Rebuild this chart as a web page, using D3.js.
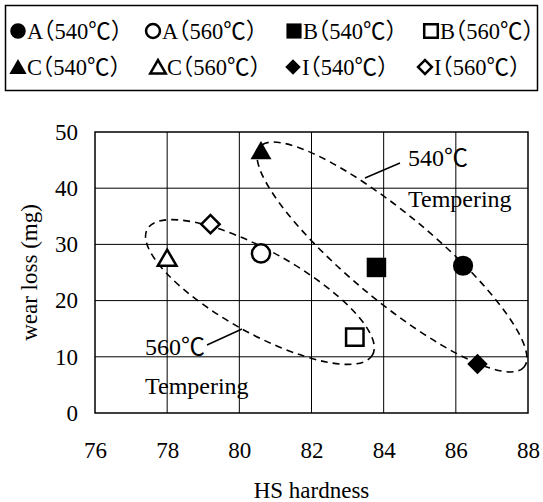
<!DOCTYPE html>
<html>
<head>
<meta charset="utf-8">
<script src="https://cdn.jsdelivr.net/npm/d3@7"></script>
<style>
  body { margin: 0; background: #fff; }
  svg text { font-family: "Liberation Serif", "Noto Sans CJK JP", "DejaVu Serif", serif !important; fill: #000; }
  .leg text { font-feature-settings: "halt"; }
</style>
</head>
<body>
<script>
// data
const labels = ["A（540℃）", "A（560℃）", "B（540℃）", "B（560℃）",
                "C（540℃）", "C（560℃）", "I（540℃）", "I（560℃）"];
const shapes = ["circle", "circle", "square", "square", "triangle", "triangle", "diamond", "diamond"];
const filled = [true, false, true, false, true, false, true, false];
const hardness = [86.2, 80.6, 83.8, 83.2, 80.6, 78.0, 86.6, 79.2];
const wearLoss = [26.2, 28.4, 25.9, 13.5, 46.6, 27.5, 8.7, 33.6];
const xTicks = [76, 78, 80, 82, 84, 86, 88];
const yTicks = [0, 10, 20, 30, 40, 50];

// dashed ellipses that group the tempering temperatures
const groupNames = ["540℃", "560℃"];
const groupCenterX = [84.23, 80.57];
const groupCenterY = [27.76, 21.53];

const W = 543, H = 502;
const margin = { top: 132, right: 15, bottom: 89, left: 95 };
const width = W - margin.left - margin.right;
const height = H - margin.top - margin.bottom;

const svg = d3.select("body").append("svg")
  .attr("width", W)
  .attr("height", H);

// ---- legend ----
const legend = svg.append("g").attr("class", "leg");
legend.append("rect")
  .attr("x", 5.5).attr("y", 5.5)
  .attr("width", 532).attr("height", 85)
  .attr("fill", "none").attr("stroke", "#000").attr("stroke-width", 1.5);

const symbolOf = (shape) => ({
  circle: d3.symbolCircle,
  square: d3.symbolSquare,
  triangle: d3.symbolTriangle,
  diamond: d3.symbolSquare
})[shape];

const markerSize = { circle: 320, square: 380, triangle: 190, diamond: 210 };
const legendSize = { circle: 190, square: 230, triangle: 130, diamond: 120 };

const drawMarker = (sel, shape, isFilled, size) => {
  sel.append("path")
    .attr("d", d3.symbol().type(symbolOf(shape)).size(isFilled ? size : size * 0.8)())
    .attr("transform", shape === "diamond" ? "rotate(45)" : (shape === "triangle" ? "translate(0,2)" : null))
    .attr("fill", isFilled ? "#000" : "#fff")
    .attr("stroke", "#000")
    .attr("stroke-width", isFilled ? 0 : 2.5);
};

const rowY = [31, 67];
const colX = [[18, 153, 294, 431], [18, 158, 293, 425]];
[[0, 1, 2, 3], [4, 5, 6, 7]].forEach((row, r) => {
  row.forEach((i, c) => {
    const mx = colX[r][c];
    const gm = legend.append("g").attr("transform", `translate(${mx},${rowY[r]})`);
    drawMarker(gm, shapes[i], filled[i], legendSize[shapes[i]]);
    legend.append("text")
      .attr("x", mx + 9).attr("y", rowY[r] + 8)
      .style("font-size", "22.5px")
      .text(labels[i]);
  });
});

// ---- chart ----
const g = svg.append("g").attr("transform", `translate(${margin.left},${margin.top})`);

const x = d3.scaleLinear().domain([76, 88]).range([0, width]);
const y = d3.scaleLinear().domain([0, 50]).range([height, 0]);

g.append("g").selectAll("line").data(xTicks.slice(1, -1)).join("line")
  .attr("x1", (d) => x(d)).attr("x2", (d) => x(d))
  .attr("y1", 0).attr("y2", height)
  .attr("stroke", "#000").attr("stroke-width", 1);
g.append("g").selectAll("line").data(yTicks.slice(1, -1)).join("line")
  .attr("x1", 0).attr("x2", width)
  .attr("y1", (d) => y(d)).attr("y2", (d) => y(d))
  .attr("stroke", "#000").attr("stroke-width", 1);

const xaxis = g.append("g").attr("transform", `translate(0,${height})`)
  .call(d3.axisBottom(x).tickValues(xTicks).tickSize(0).tickPadding(29));
const yaxis = g.append("g")
  .call(d3.axisLeft(y).tickValues(yTicks).tickSize(0).tickPadding(17));
[xaxis, yaxis].forEach((a) => {
  a.select(".domain").remove();
  a.selectAll("text").style("font-size", "23px");
});

g.append("rect")
  .attr("width", width).attr("height", height)
  .attr("fill", "none").attr("stroke", "#000").attr("stroke-width", 1.5);

// ellipses
const ellA = [172, 129];
const ellB = [43, 41];
const ellAngle = [39.8, 29.2];
g.append("g").selectAll("ellipse").data(groupNames).join("ellipse")
  .attr("cx", 0).attr("cy", 0)
  .attr("rx", (d, i) => ellA[i]).attr("ry", (d, i) => ellB[i])
  .attr("transform", (d, i) => `translate(${x(groupCenterX[i])},${y(groupCenterY[i])}) rotate(${ellAngle[i]})`)
  .attr("fill", "none").attr("stroke", "#000")
  .attr("stroke-width", 1.6).attr("stroke-dasharray", "7,5");

// annotations
const note = g.append("g").style("font-size", "24px");
note.append("line").attr("x1", 270).attr("y1", 46).attr("x2", 305).attr("y2", 31)
  .attr("stroke", "#000").attr("stroke-width", 1.5);
note.append("text").attr("x", 313).attr("y", 34).text("540℃");
note.append("text").attr("x", 313).attr("y", 75).text("Tempering");
note.append("line").attr("x1", 112).attr("y1", 213).attr("x2", 147).attr("y2", 197)
  .attr("stroke", "#000").attr("stroke-width", 1.5);
note.append("text").attr("x", 50).attr("y", 223).text("560℃");
note.append("text").attr("x", 50).attr("y", 262).text("Tempering");

// points
const pts = g.append("g").selectAll("g").data(d3.range(labels.length)).join("g")
  .attr("transform", (i) => `translate(${x(hardness[i])},${y(wearLoss[i])})`);
pts.each(function (i) {
  drawMarker(d3.select(this), shapes[i], filled[i], markerSize[shapes[i]]);
});

// axis titles
svg.append("text")
  .attr("x", margin.left + width / 2).attr("y", 498)
  .attr("text-anchor", "middle").style("font-size", "23px")
  .text("HS hardness");
svg.append("text")
  .attr("transform", `translate(37,${margin.top + height / 2}) rotate(-90)`)
  .attr("text-anchor", "middle").style("font-size", "23px")
  .text("wear loss (mg)");
</script>
</body>
</html>
